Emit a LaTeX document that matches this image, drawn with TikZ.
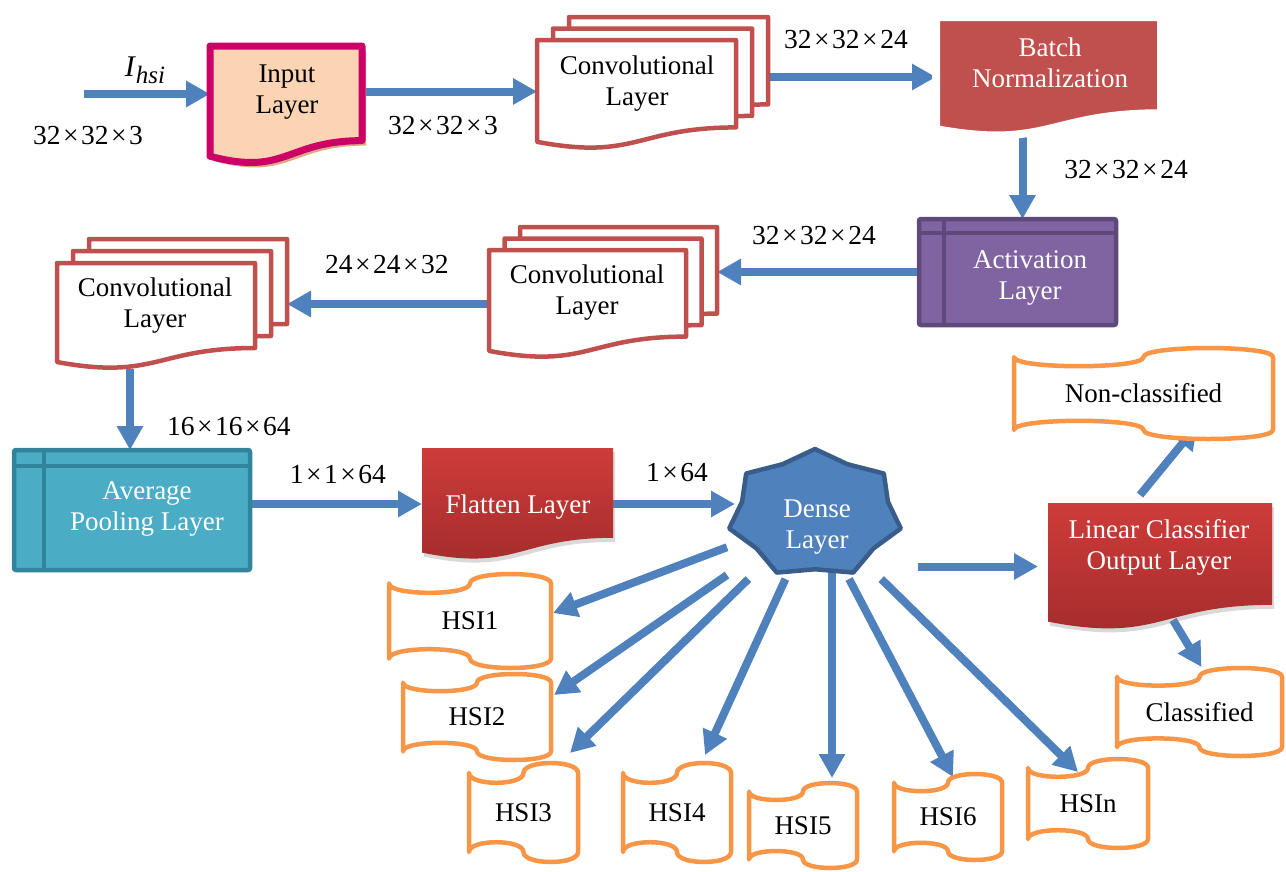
\documentclass[tikz,border=0pt]{standalone}
\usepackage{fontspec}
\setmainfont{Liberation Serif}
\usetikzlibrary{calc,arrows.meta,shadows}
\pgfdeclarelayer{arrowlayer}
\pgfdeclarelayer{shapelayer}
\pgfsetlayers{arrowlayer,shapelayer,main}

\definecolor{arrowblue}{HTML}{4F81BD}
\definecolor{inputborder}{HTML}{CC0066}
\definecolor{inputfill}{HTML}{FBD4B4}
\definecolor{shadowtan}{HTML}{D9AC84}
\definecolor{convred}{HTML}{C0504D}
\definecolor{batchfill}{HTML}{C0504D}
\definecolor{actfill}{HTML}{8064A2}
\definecolor{actdraw}{HTML}{5F497A}
\definecolor{avgfill}{HTML}{4BACC6}
\definecolor{avgdraw}{HTML}{31849B}
\definecolor{redtop}{HTML}{CD3C3A}
\definecolor{redbottom}{HTML}{A22B2B}
\definecolor{densefill}{HTML}{4F81BD}
\definecolor{densedraw}{HTML}{385D8A}
\definecolor{tapeorange}{HTML}{F79646}

\newcommand{\tm}{\kern2.5pt×\kern2.5pt}

% document (wavy bottom) shape: name, left x, top y, w, h, style
\newcommand{\mkdoc}[6]{%
  \node[boxnode, minimum width=#4pt, minimum height=#5pt] (#1) at ({#2+0.5*#4},{#3+0.5*#5}) {};
  \begin{pgfonlayer}{shapelayer}
  \path[#6] (#2,#3) -- ({#2+#4},#3) -- ({#2+#4},{#3+0.802*#5})
    .. controls ({#2+0.5*#4},{#3+0.802*#5}) and ({#2+0.5*#4},{#3+1.107*#5}) .. (#2,{#3+0.934*#5}) -- cycle;
  \end{pgfonlayer}}

% punched tape shape: name, left x, top y, w, h, text
\newcommand{\mktape}[6]{%
  \node[tapenode, minimum width=#4pt, minimum height=#5pt] (#1) at ({#2+0.5*#4},{#3+0.5*#5}) {#6};
  \begin{pgfonlayer}{shapelayer}
  \path[tapestyle] (#2,{#3+0.1*#5})
    .. controls (#2,{#3+0.2333*#5}) and ({#2+0.5*#4},{#3+0.2333*#5}) .. ({#2+0.5*#4},{#3+0.1*#5})
    .. controls ({#2+0.5*#4},{#3-0.0333*#5}) and ({#2+#4},{#3-0.0333*#5}) .. ({#2+#4},{#3+0.1*#5})
    -- ({#2+#4},{#3+0.9*#5})
    .. controls ({#2+#4},{#3+1.0333*#5}) and ({#2+0.5*#4},{#3+1.0333*#5}) .. ({#2+0.5*#4},{#3+0.9*#5})
    .. controls ({#2+0.5*#4},{#3+0.7667*#5}) and (#2,{#3+0.7667*#5}) .. (#2,{#3+0.9*#5}) -- cycle;
  \end{pgfonlayer}}

% internal storage shape: name, left x, top y, w, h, style, hline dy, vline dx
\newcommand{\mkstore}[8]{%
  \node[boxnode, minimum width=#4pt, minimum height=#5pt] (#1) at ({#2+0.5*#4},{#3+0.5*#5}) {};
  \begin{pgfonlayer}{shapelayer}
  \path[#6] (#2,#3) rectangle ({#2+#4},{#3+#5});
  \draw[#6, fill=none] (#2,{#3+#7}) -- ({#2+#4},{#3+#7}) ({#2+#8},#3) -- ({#2+#8},{#3+#5});
  \end{pgfonlayer}}

\tikzset{
  boxnode/.style={draw=none, inner sep=0pt, outer sep=0pt, rectangle},
  tapenode/.style={boxnode, font=\fontsize{27}{31}\selectfont},
  tapestyle/.style={draw=tapeorange, line width=4.5pt, fill=white, line join=round},
  txt/.style={inner sep=0pt, align=center, font=\fontsize{27}{31}\selectfont},
  txtw/.style={txt, text=white},
  lbl/.style={inner sep=0pt, font=\fontsize{27.5}{30}\selectfont},
  arr/.style={draw=arrowblue, line width=8pt, -{Triangle[length=24pt,width=25pt]}},
  convsheet/.style={draw=convred, line width=4.5pt, fill=white, line join=round},
  inputsheet/.style={draw=inputborder, line width=7pt, fill=inputfill, line join=round,
    drop shadow={shadow xshift=4pt, shadow yshift=-5pt, fill=shadowtan, opacity=1}},
  batchsheet/.style={draw=white, line width=8pt, fill=batchfill, line join=round,
    drop shadow={shadow xshift=2pt, shadow yshift=-3pt, opacity=0.35}},
  redsheet/.style={top color=redtop, bottom color=redbottom, draw=none,
    drop shadow={shadow xshift=2pt, shadow yshift=-4pt, opacity=0.3}},
  actstore/.style={fill=actfill, draw=actdraw, line width=4.5pt, rounded corners=2pt},
  avgstore/.style={fill=avgfill, draw=avgdraw, line width=4.5pt, rounded corners=2pt},
  densestyle/.style={fill=densefill, draw=densedraw, line width=4.5pt, line join=round},
}

\begin{document}
\begin{tikzpicture}[x=1pt,y=-1pt]
\useasboundingbox (0,0) rectangle (1286,871);

% ---------- shapes ----------
\mkdoc{inp}{210}{46}{152}{118}{inputsheet}
\node[txt] (inpt) at (287,92) {Input\\Layer};

\mkdoc{c1c}{569}{17}{199}{109}{convsheet}
\mkdoc{c1b}{553}{28.5}{199}{109}{convsheet}
\mkdoc{c1a}{537}{40}{199}{109}{convsheet}
\node[txt] (c1t) at (637,83.5) {Convolutional\\Layer};

\mkdoc{bn}{936}{17}{225}{120}{batchsheet}
\node[txtw] (bnt) at (1050,62.5) {Batch\\Normalization};

\mkstore{act}{919}{219}{197}{106}{actstore}{14}{25}
\node[txtw] (actt) at (1030,277.5) {Activation\\Layer};

\mkdoc{c2c}{520}{227}{197}{108}{convsheet}
\mkdoc{c2b}{504.5}{238.5}{197}{108}{convsheet}
\mkdoc{c2a}{489}{250}{197}{108}{convsheet}
\node[txt] (c2t) at (587,292.5) {Convolutional\\Layer};

\mkdoc{c3c}{89}{239}{198}{106}{convsheet}
\mkdoc{c3b}{73}{251}{198}{106}{convsheet}
\mkdoc{c3a}{57}{263}{198}{106}{convsheet}
\node[txt] (c3t) at (155,306) {Convolutional\\Layer};

\mkstore{avg}{14}{450}{236}{120}{avgstore}{16}{30}
\node[txtw] (avgt) at (147,509) {Average\\Pooling Layer};

\mkdoc{fl}{422}{448}{191}{112}{redsheet}
\node[txtw] (flt) at (518,507) {Flatten Layer};

\node[boxnode, minimum width=176pt, minimum height=130pt] (dense) at (815,514) {};
\begin{pgfonlayer}{shapelayer}
\path[densestyle] (815,449)
  \foreach \k in {1,...,13} { -- ({815+88*(1-0.15*mod(\k,2))*cos(90+\k*360/14)},{514-65*(1-0.15*mod(\k,2))*sin(90+\k*360/14)}) } -- cycle;
\end{pgfonlayer}
\node[txtw] (denset) at (817,527) {Dense\\Layer};

\mkdoc{lin}{1048}{503}{224}{127}{redsheet}
\node[txtw] (lint) at (1159,547.5) {Linear Classifier\\Output Layer};

\mktape{noncl}{1014}{348}{259}{91}{Non-classified}
\mktape{cl}{1117}{668}{165}{88}{Classified}
\mktape{hsi1}{389}{574}{162}{94}{HSI1}
\mktape{hsi2}{403}{674}{148}{86}{HSI2}
\mktape{hsi3}{469}{763}{109}{99}{HSI3}
\mktape{hsi4}{623}{763}{108}{99}{HSI4}
\mktape{hsi5}{749}{783}{108}{85}{HSI5}
\mktape{hsi6}{894}{774}{108}{86}{HSI6}
\mktape{hsin}{1028}{759}{120}{89}{HSIn}

% ---------- labels ----------
\node[lbl] (ihsi) at (145,70) {\fontsize{30}{30}\selectfont\itshape I\kern1pt\raisebox{-7pt}{\fontsize{25}{25}\selectfont hsi}};
\node[lbl] (lab1) at (88,136) {32\tm 32\tm 3};
\node[lbl] (lab2) at (443,126) {32\tm 32\tm 3};
\node[lbl] (lab3) at (846,40) {32\tm 32\tm 24};
\node[lbl] (lab4) at (1126,170) {32\tm 32\tm 24};
\node[lbl] (lab5) at (814,236) {32\tm 32\tm 24};
\node[lbl] (lab6) at (387,265) {24\tm 24\tm 32};
\node[lbl] (lab7) at (229,427) {16\tm 16\tm 64};
\node[lbl] (lab8) at (338,475) {1\tm 1\tm 64};
\node[lbl] (lab9) at (677,473) {1\tm 64};

% ---------- connectors ----------
\coordinate (inarrow) at (84,94);
\coordinate (h5tip) at ($(hsi5.north)+(29,-5)$);
\begin{pgfonlayer}{arrowlayer}
\draw[arr] (inarrow) -- (inarrow -| inp.west);
\draw[arr] ([yshift=3pt]c1a.west -| inp.east) -- ([yshift=3pt]c1a.west);
\draw[arr] (bn.west -| c1c.east) -- (bn.west);
\draw[arr] ([xshift=5pt]act.north |- bn.south) -- ([xshift=5pt]act.north);
\draw[arr] (act.west) -- (act.west -| c2c.east);
\draw[arr] (c2a.west) -- (c2a.west -| c3c.east);
\draw[arr] ([xshift=-2pt]avg.north |- c3a.south) -- ([xshift=-2pt]avg.north);
\draw[arr] (fl.west -| avg.east) -- (fl.west);
\draw[arr] (fl.east) -- ($(fl.east -| dense.west)+(8,0)$);
\draw[arr] ($(lin.west -| dense.east)+(15,0)$) -- ($(lin.west)+(-10,0)$);
\draw[arr] ($(lin.north)+(-20,-8)$) -- ($(noncl.south)+(54,-14)$);
\draw[arr] ($(lin.south)+(13,-10)$) -- ($(cl.north)+(2,-1)$);
\draw[arr] (dense) -- ($(hsi1.east)+(2,-8)$);
\draw[arr] (dense) -- ($(hsi2.east)+(3,-22)$);
\draw[arr] (dense) -- ($(hsi3.north east)+(-8,-10)$);
\draw[arr] (dense) -- ($(hsi4.north)+(28,-8)$);
\draw[arr] (h5tip |- dense) -- (h5tip);
\draw[arr] (dense) -- ($(hsi6.north)+(5,3)$);
\draw[arr] (dense) -- ($(hsin.north)+(-10,13)$);
\end{pgfonlayer}
\end{tikzpicture}
\end{document}
